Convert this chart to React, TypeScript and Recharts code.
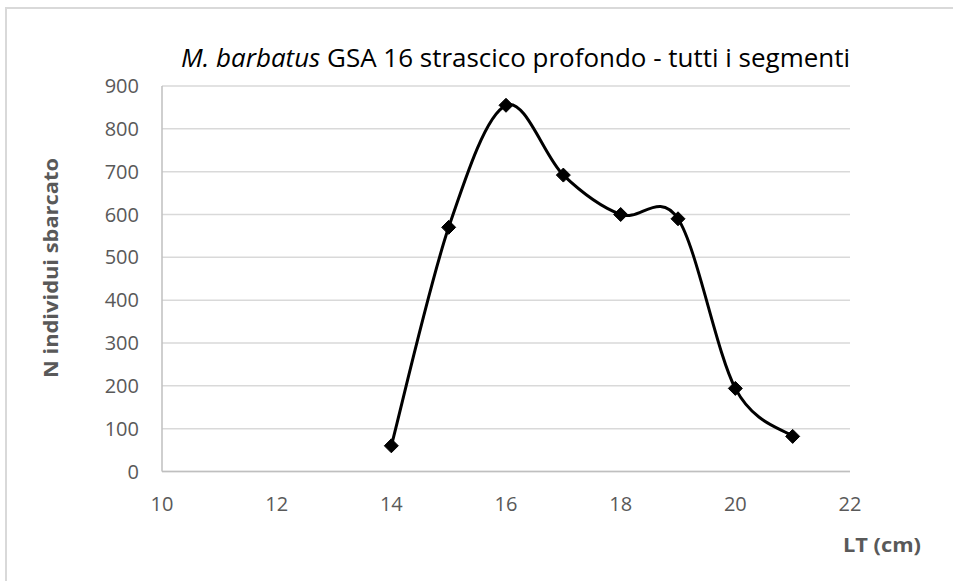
import React from "react";
import { LineChart, Line, XAxis, YAxis, CartesianGrid } from "recharts";

const lengths = [14, 15, 16, 17, 18, 19, 20, 21];
const counts = [60, 570, 855, 692, 600, 590, 194, 82];
const xTicks = [10, 12, 14, 16, 18, 20, 22];
const yTicks = [0, 100, 200, 300, 400, 500, 600, 700, 800, 900];

const data = lengths.map((x, i) => ({ x, y: counts[i] }));

// Excel-like smoothed line (Catmull-Rom with 1/6 control-point factor)
function excelCurve(context: any) {
  let pts: [number, number][] = [];
  return {
    areaStart() {},
    areaEnd() {},
    lineStart() {
      pts = [];
    },
    point(x: number, y: number) {
      pts.push([+x, +y]);
    },
    lineEnd() {
      const n = pts.length;
      if (n === 0) return;
      context.moveTo(pts[0][0], pts[0][1]);
      if (n === 1) return;
      for (let i = 0; i < n - 1; i++) {
        const p0 = pts[Math.max(i - 1, 0)];
        const p1 = pts[i];
        const p2 = pts[i + 1];
        const p3 = pts[Math.min(i + 2, n - 1)];
        const c1x = p1[0] + (p2[0] - p0[0]) / 6;
        const c1y = p1[1] + (p2[1] - p0[1]) / 6;
        const c2x = p2[0] - (p3[0] - p1[0]) / 6;
        const c2y = p2[1] - (p3[1] - p1[1]) / 6;
        context.bezierCurveTo(c1x, c1y, c2x, c2y, p2[0], p2[1]);
      }
    },
  };
}

const Diamond = (props: any) => {
  const { cx, cy } = props;
  if (cx == null || cy == null) return null;
  const r = 7;
  return (
    <path
      d={`M${cx},${cy - r} L${cx + r},${cy} L${cx},${cy + r} L${cx - r},${cy} Z`}
      fill="#000"
      stroke="#000"
      strokeWidth={1}
    />
  );
};

const FONT = "'Open Sans', 'Noto Sans', sans-serif";

export default function App() {
  return (
    <div
      style={{
        position: "fixed",
        left: 0,
        top: 0,
        width: 953,
        height: 581,
        background: "#fff",
        fontFamily: FONT,
      }}
    >
      <div
        style={{
          position: "absolute",
          left: 5,
          top: 7,
          width: 960,
          height: 590,
          borderLeft: "2px solid #d9d9d9",
          borderTop: "2px solid #d9d9d9",
        }}
      />
      <LineChart
        width={953}
        height={581}
        data={data}
        margin={{ top: 86, right: 103, bottom: 79.5, left: 0 }}
        style={{ position: "absolute", left: 0, top: 0 }}
      >
        <CartesianGrid horizontal={true} vertical={false} stroke="#d9d9d9" strokeWidth={1.5} />
        <XAxis
          type="number"
          dataKey="x"
          domain={[10, 22]}
          ticks={xTicks}
          height={30}
          tickLine={false}
          tickSize={0}
          tickMargin={25}
          axisLine={{ stroke: "#bfbfbf", strokeWidth: 1.5 }}
          tick={{ fill: "#595959", fontSize: 20, fontFamily: FONT }}
          interval={0}
        />
        <YAxis
          type="number"
          domain={[0, 900]}
          ticks={yTicks}
          width={162}
          tickLine={false}
          tickSize={0}
          tickMargin={23}
          axisLine={{ stroke: "#bfbfbf", strokeWidth: 1.5 }}
          tick={{ fill: "#595959", fontSize: 20, fontFamily: FONT }}
          interval={0}
        />
        <Line
          dataKey="y"
          type={excelCurve as any}
          stroke="#000"
          strokeWidth={3}
          dot={<Diamond />}
          activeDot={false}
          isAnimationActive={false}
        />
      </LineChart>
      <svg
        width={953}
        height={581}
        style={{ position: "absolute", left: 0, top: 0, pointerEvents: "none" }}
      >
        <text
          x={181}
          y={67}
          fontSize={25}
          fontFamily={FONT}
          fill="#000"
          textLength={669}
          lengthAdjust="spacingAndGlyphs"
        >
          <tspan fontStyle="italic">M. barbatus</tspan>
          <tspan> GSA 16 strascico profondo - tutti i segmenti</tspan>
        </text>
        <text
          x={921}
          y={552}
          fontSize={20}
          fontWeight="bold"
          fontFamily={FONT}
          fill="#595959"
          textAnchor="end"
          textLength={78}
          lengthAdjust="spacingAndGlyphs"
        >
          LT (cm)
        </text>
        <text
          transform="translate(58,268) rotate(-90)"
          x={0}
          y={0}
          fontSize={20}
          fontWeight="bold"
          fontFamily={FONT}
          fill="#595959"
          textAnchor="middle"
          textLength={220}
          lengthAdjust="spacingAndGlyphs"
        >
          N individui sbarcato
        </text>
      </svg>
    </div>
  );
}
